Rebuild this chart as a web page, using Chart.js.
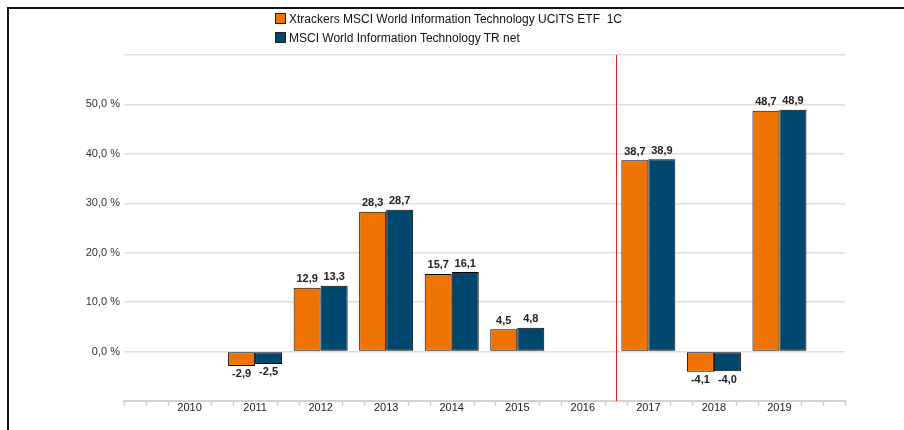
<!DOCTYPE html>
<html>
<head>
<meta charset="utf-8">
<script src="https://cdn.jsdelivr.net/npm/chart.js@4"></script>
<style>
  html, body { margin: 0; padding: 0; background: #fff; }
  #wrap { position: relative; width: 904px; height: 430px; }
  #frame { position: absolute; left: 7px; top: 7px; right: 0; bottom: 0; border-top: 2px solid #111; border-left: 2px solid #111; pointer-events: none; }
  #legend { position: absolute; left: 275px; top: 10px; font-family: "Liberation Sans", Arial, sans-serif; font-size: 12px; color: #111; }
  #legend div { height: 19px; line-height: 19px; white-space: pre; }
  #legend span { display: inline-block; width: 9px; height: 9px; border: 1px solid #222; margin-right: 3px; vertical-align: -1px; }
</style>
</head>
<body>
<div id="wrap">
  <canvas id="chart" width="904" height="430"></canvas>
  <div id="frame"></div>
  <div id="legend"></div>
</div>
<script>
// data
const years = ['', '2010', '2011', '2012', '2013', '2014', '2015', '2016', '2017', '2018', '2019', ''];
const etfValues = [null, null, -2.9, 12.9, 28.3, 15.7, 4.5, null, 38.7, -4.1, 48.7, null];
const indexValues = [null, null, -2.5, 13.3, 28.7, 16.1, 4.8, null, 38.9, -4.0, 48.9, null];
const seriesNames = ['Xtrackers MSCI World Information Technology UCITS ETF  1C', 'MSCI World Information Technology TR net'];
const colors = ['#ef7300', '#00476d'];

const legend = document.getElementById('legend');
seriesNames.forEach((name, i) => {
  const row = document.createElement('div');
  row.innerHTML = '<span style="background:' + colors[i] + '"></span>';
  row.appendChild(document.createTextNode(name));
  legend.appendChild(row);
});

const fmt = v => v.toFixed(1).replace('.', ',');

// value labels above / below the bars
const valueLabels = {
  id: 'valueLabels',
  afterDatasetsDraw(chart) {
    const ctx = chart.ctx;
    ctx.save();
    ctx.font = 'bold 11px "Liberation Sans", Arial, sans-serif';
    ctx.fillStyle = '#222';
    ctx.textAlign = 'center';
    chart.data.datasets.forEach((ds, di) => {
      chart.getDatasetMeta(di).data.forEach((bar, i) => {
        const v = ds.data[i];
        if (v === null) return;
        if (v >= 0) {
          ctx.textBaseline = 'bottom';
          ctx.fillText(fmt(v), bar.x, bar.y - 3);
        } else {
          ctx.textBaseline = 'top';
          ctx.fillText(fmt(v), bar.x, bar.y + 3);
        }
      });
    });
    ctx.restore();
  }
};

// minor tick marks on the x axis and the red marker line between 2016 and 2017
const axisExtras = {
  id: 'axisExtras',
  afterDraw(chart) {
    const ctx = chart.ctx;
    const x = chart.scales.x;
    const area = chart.chartArea;
    ctx.save();
    ctx.strokeStyle = '#d6d2c8';
    ctx.lineWidth = 1.5;
    const n = years.length - 1;
    for (let k = 0; k <= n * 3; k++) {
      if (k % 3 === 0 && k !== 0 && k !== n * 3) continue;
      const i = Math.floor(k / 3);
      const a = x.getPixelForValue(i);
      const b = x.getPixelForValue(Math.min(i + 1, n));
      const px = Math.round(a + (b - a) * (k % 3) / 3) + 0.5;
      ctx.beginPath();
      ctx.moveTo(px, area.bottom);
      ctx.lineTo(px, area.bottom + 5);
      ctx.stroke();
    }
    const mx = Math.round((x.getPixelForValue(7) + x.getPixelForValue(8)) / 2) + 0.5;
    ctx.strokeStyle = '#e02020';
    ctx.lineWidth = 1;
    ctx.beginPath();
    ctx.moveTo(mx, area.top);
    ctx.lineTo(mx, area.bottom);
    ctx.stroke();
    ctx.restore();
  }
};

new Chart(document.getElementById('chart'), {
  type: 'bar',
  data: {
    labels: years,
    datasets: [
      { label: seriesNames[0], data: etfValues, backgroundColor: colors[0], borderColor: '#000', borderWidth: 1, borderSkipped: false },
      { label: seriesNames[1], data: indexValues, backgroundColor: colors[1], borderColor: '#000', borderWidth: 1, borderSkipped: false }
    ]
  },
  options: {
    responsive: false,
    animation: false,
    events: [],
    layout: { padding: { left: 0, right: 59, top: 55, bottom: 0 } },
    datasets: { bar: { categoryPercentage: 0.824, barPercentage: 1.0 } },
    plugins: { legend: { display: false }, tooltip: { enabled: false } },
    scales: {
      x: {
        offset: false,
        grid: { display: true, drawOnChartArea: false, drawTicks: false, color: '#d6d2c8' },
        border: { display: true, color: '#d6d2c8', width: 2 },
        ticks: {
          padding: 0,
          color: '#222',
          font: { family: '"Liberation Sans", Arial, sans-serif', size: 11 },
          autoSkip: false,
          maxRotation: 0
        },
        afterFit(scale) { scale.height = 29; }
      },
      y: {
        min: -10,
        max: 60,
        afterFit(scale) { scale.width = 124; },
        grid: { color: c => (c.tick.value >= 0 ? '#e2dfd7' : 'rgba(0,0,0,0)'), lineWidth: 1.5, drawTicks: false },
        border: { display: false },
        ticks: {
          stepSize: 10,
          padding: 4,
          color: '#333',
          font: { family: '"Liberation Sans", Arial, sans-serif', size: 11 },
          callback: v => (v >= 0 && v <= 50 ? fmt(v) + ' %' : '')
        }
      }
    }
  },
  plugins: [valueLabels, axisExtras]
});
</script>
</body>
</html>
